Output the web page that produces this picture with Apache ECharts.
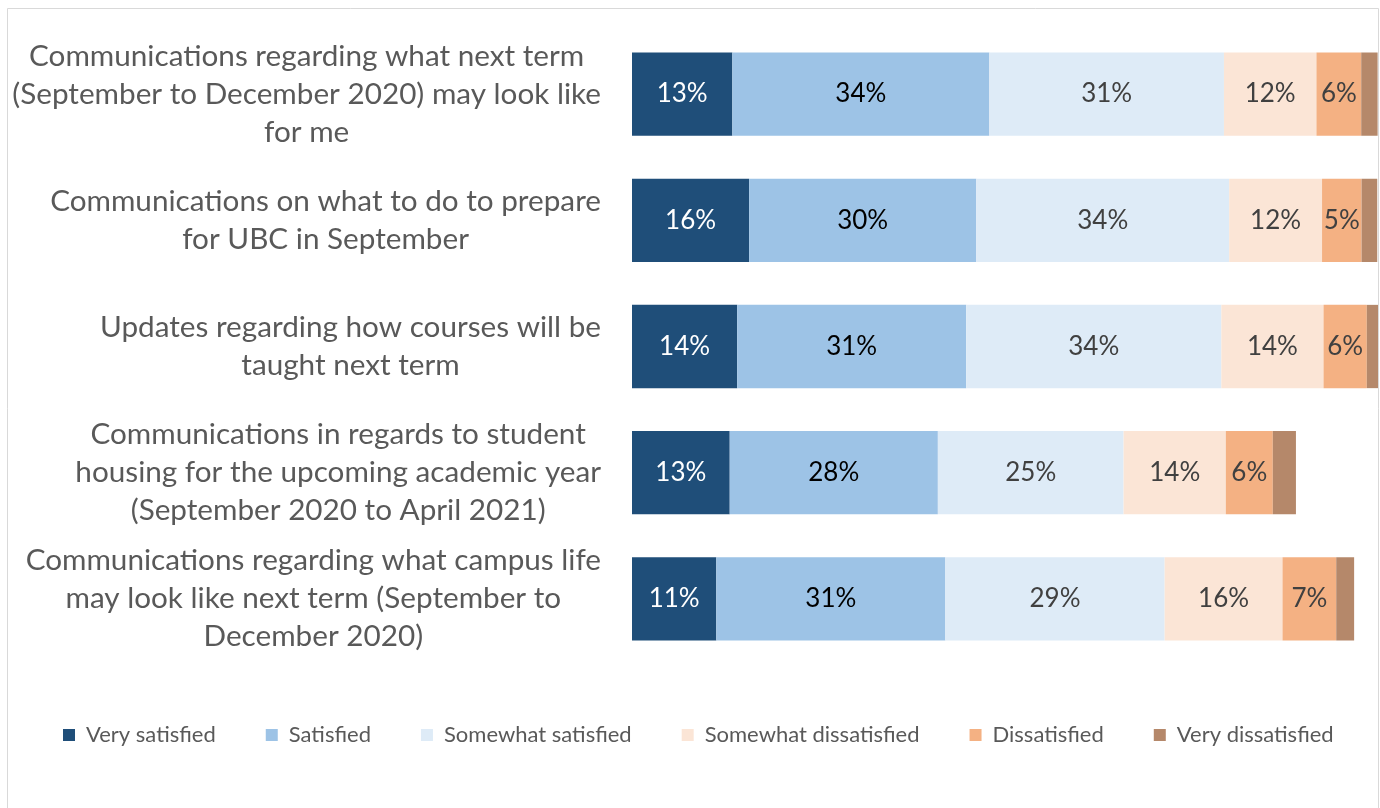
<!DOCTYPE html>
<html>
<head>
<meta charset="utf-8">
<script src="https://cdn.jsdelivr.net/npm/echarts@6/dist/echarts.min.js"></script>
<style>
  html, body { margin: 0; padding: 0; background: #fff; }
  #chart { width: 1380px; height: 808px; }
</style>
</head>
<body>
<div id="chart"></div>
<script>
// questions (top to bottom)
const categories = [
  'Communications regarding what next term\n(September to December 2020) may look like\nfor me',
  'Communications on what to do to prepare\nfor UBC in September',
  'Updates regarding how courses will be\ntaught next term',
  'Communications in regards to student\nhousing for the upcoming academic year\n(September 2020 to April 2021)',
  'Communications regarding what campus life\nmay look like next term (September to\nDecember 2020)'
];
const seriesNames = ['Very satisfied', 'Satisfied', 'Somewhat satisfied', 'Somewhat dissatisfied', 'Dissatisfied', 'Very dissatisfied'];
// percent of respondents
const verySatisfied        = [13.45, 15.7, 14.1, 13.1, 11.3];
const satisfied            = [34.45, 30.45, 30.7, 27.9, 30.7];
const somewhatSatisfied    = [31.45, 33.9, 34.2, 24.9, 29.4];
const somewhatDissatisfied = [12.4, 12.45, 13.7, 13.7, 15.8];
const dissatisfied         = [6.0, 5.3, 5.8, 6.3, 7.2];
const veryDissatisfied     = [2.2, 2.1, 1.6, 3.1, 2.4];

const colors = ['#1f4e79', '#9dc3e6', '#deebf7', '#fbe5d6', '#f4b183', '#b5886a'];
const labelColors = ['#ffffff', '#000000', '#404040', '#404040', '#404040', '#404040'];
const values = [verySatisfied, satisfied, somewhatSatisfied, somewhatDissatisfied, dissatisfied, veryDissatisfied];
const FONT = 'Lato';

var myChart = echarts.init(document.getElementById('chart'));

var series = seriesNames.map(function (name, i) {
  return {
    name: name,
    type: 'bar',
    stack: 'total',
    barWidth: '66%',
    data: values[i],
    itemStyle: { color: colors[i] },
    label: {
      show: i < 5,
      position: 'inside',
      color: labelColors[i],
      fontFamily: FONT,
      fontSize: 26,
      formatter: function (p) { return Math.round(p.value) + '%'; }
    }
  };
});

myChart.setOption({
  animation: false,
  backgroundColor: '#fff',
  color: colors,
  graphic: [{
    type: 'rect',
    silent: true,
    shape: { x: 7.5, y: 8.5, width: 1371, height: 830 },
    style: { fill: 'none', stroke: '#d9d9d9', lineWidth: 1 }
  }],
  grid: { left: 632, right: 2, top: 31, bottom: 146 },
  xAxis: {
    type: 'value',
    min: 0,
    max: 100,
    show: false
  },
  yAxis: {
    type: 'category',
    inverse: true,
    data: categories,
    axisLine: { show: false },
    axisTick: { show: false },
    axisLabel: {
      margin: 31,
      formatter: function (v) {
        return v.split('\n').map(function (s) { return '{c|' + s + '}'; }).join('\n');
      },
      rich: {
        c: { align: 'center', fontFamily: FONT, fontSize: 29.7, lineHeight: 38, color: '#595959' }
      }
    }
  },
  legend: {
    data: seriesNames,
    left: 58,
    top: 719,
    icon: 'rect',
    itemWidth: 12,
    itemHeight: 12,
    itemGap: 50,
    textStyle: { fontFamily: FONT, fontSize: 22, color: '#595959', padding: [0, 0, 0, 6] }
  },
  series: series
});
</script>
</body>
</html>
